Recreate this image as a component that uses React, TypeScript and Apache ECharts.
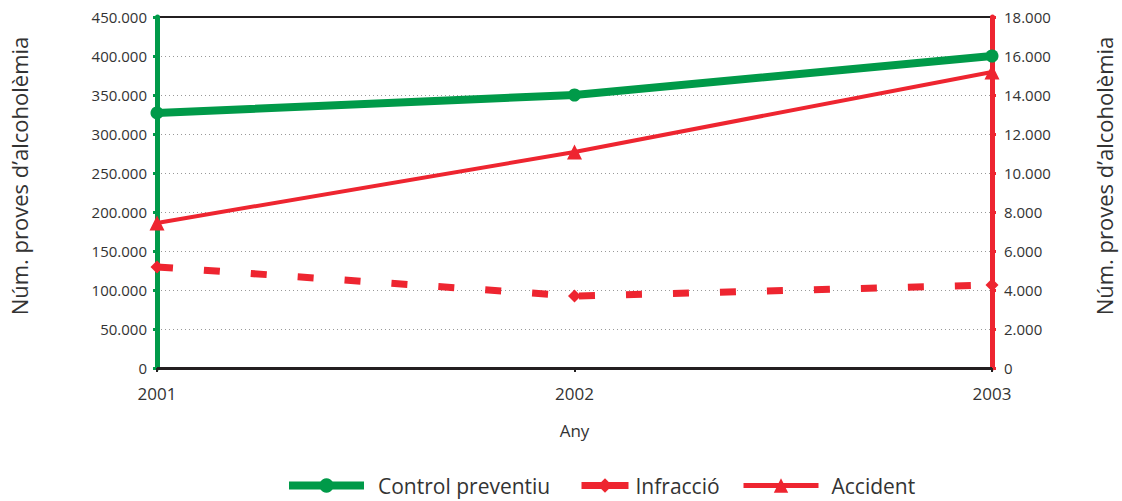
import React, { useEffect, useRef } from "react";
import * as echarts from "echarts";

const years = ["2001", "2002", "2003"];
const controlPreventiu = [327000, 350000, 400000];
const infraccio = [5180, 3690, 4260];
const accident = [7440, 11080, 15180];
const leftTicksMax = 450000;
const rightTicksMax = 18000;
const axisTitle = "Núm. proves d’alcoholèmia";

const GREEN = "#009a49";
const RED = "#ee2530";
const FONT = "Open Sans";
const TXT = "#333";

const fmt = (v: number) => String(v).replace(/\B(?=(\d{3})+(?!\d))/g, ".");

export default function App() {
  const ref = useRef<HTMLDivElement>(null);
  useEffect(() => {
    const chart = echarts.init(ref.current!, null, { renderer: "svg" });
    const legendText = { fontFamily: FONT, fontSize: 21, color: TXT };
    chart.setOption({
      animation: false,
      textStyle: { fontFamily: FONT },
      grid: { left: 157, right: 130, top: 17, bottom: 133, show: true, borderColor: "#231f20", borderWidth: 2, backgroundColor: "transparent" },
      graphic: [
        {
          type: "text",
          x: 19,
          y: 176,
          rotation: Math.PI / 2,
          style: { text: axisTitle, align: "center", verticalAlign: "middle", fontFamily: FONT, fontSize: 22, fill: TXT },
        },
        {
          type: "text",
          x: 1104,
          y: 176,
          rotation: Math.PI / 2,
          style: { text: axisTitle, align: "center", verticalAlign: "middle", fontFamily: FONT, fontSize: 22, fill: TXT },
        },
      ],
      legend: [
        {
          data: ["Control preventiu"], left: 285, top: 475, padding: 0, itemWidth: 75, itemHeight: 18,
          lineStyle: { width: 8 },
          textStyle: { ...legendText, padding: [0, 0, 0, 9] },
        },
        {
          data: ["Infracció"], left: 578, top: 475, padding: 0, itemWidth: 47, itemHeight: 18,
          lineStyle: { type: "solid", width: 7 },
          textStyle: { ...legendText, padding: [0, 0, 0, 2] },
        },
        {
          data: ["Accident"], left: 741, top: 475, padding: 0, itemWidth: 75, itemHeight: 18,
          lineStyle: { width: 5 },
          textStyle: { ...legendText, padding: [0, 0, 0, 8] },
        },
      ],
      xAxis: {
        type: "category",
        data: years,
        boundaryGap: false,
        name: "Any",
        nameLocation: "middle",
        nameGap: 54,
        nameTextStyle: { fontSize: 17, color: TXT, fontFamily: FONT },
        axisLine: { lineStyle: { color: "#231f20", width: 3 } },
        axisTick: { show: true, length: 4, lineStyle: { color: "#231f20", width: 2 } },
        axisLabel: { fontSize: 17, color: TXT, margin: 17, fontFamily: FONT },
        splitLine: { show: false },
      },
      yAxis: [
        {
          type: "value",
          min: 0,
          max: leftTicksMax,
          interval: 50000,
          position: "left",
          axisLine: { show: true, lineStyle: { color: GREEN, width: 5 } },
          axisTick: { show: true, length: 4, lineStyle: { color: GREEN, width: 3 } },
          axisLabel: { fontSize: 15, color: TXT, margin: 10, fontFamily: FONT, formatter: (v: number) => fmt(v) },
          splitLine: { show: true, showMinLine: false, showMaxLine: false, lineStyle: { color: "#999", type: [1, 3], width: 1 } },
        },
        {
          type: "value",
          min: 0,
          max: rightTicksMax,
          interval: 2000,
          position: "right",
          axisLine: { show: true, lineStyle: { color: RED, width: 5 } },
          axisTick: { show: true, length: 4, lineStyle: { color: RED, width: 3 } },
          axisLabel: { fontSize: 15, color: TXT, margin: 12, fontFamily: FONT, formatter: (v: number) => fmt(v) },
          splitLine: { show: false },
        },
      ],
      series: [
        {
          name: "Control preventiu",
          type: "line",
          yAxisIndex: 0,
          data: controlPreventiu,
          symbol: "circle",
          symbolSize: 13,
          lineStyle: { color: GREEN, width: 8 },
          itemStyle: { color: GREEN },
          z: 3,
        },
        {
          name: "Infracció",
          type: "line",
          yAxisIndex: 1,
          data: infraccio,
          symbol: "diamond",
          symbolSize: 13,
          lineStyle: { color: RED, width: 7, type: [16, 31] },
          itemStyle: { color: RED },
          z: 2,
        },
        {
          name: "Accident",
          type: "line",
          yAxisIndex: 1,
          data: accident,
          symbol: "triangle",
          symbolSize: 15,
          lineStyle: { color: RED, width: 4 },
          itemStyle: { color: RED },
          z: 2,
        },
      ],
    });
    return () => chart.dispose();
  }, []);
  return <div ref={ref} style={{ width: 1122, height: 501, position: "absolute", left: 0, top: 0 }} />;
}
